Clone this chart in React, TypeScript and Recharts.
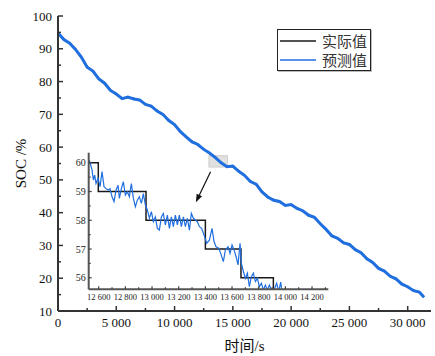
import React from 'react';
import { LineChart, Line, XAxis, YAxis, Legend, ReferenceArea, ReferenceLine } from 'recharts';

// ---------- data ----------
const mainTime = [
  0, 500, 1000, 1500, 2000, 2500, 3000, 3500, 4000, 4500, 5000, 5500, 6000, 6500, 7000, 7500,
  8000, 8500, 9000, 9500, 10000, 10500, 11000, 11500, 12000, 12500, 13000, 13500, 14000, 14500,
  15000, 15500, 16000, 16500, 17000, 17500, 18000, 18500, 19000, 19500, 20000, 20500, 21000,
  21500, 22000, 22500, 23000, 23500, 24000, 24500, 25000, 25500, 26000, 26500, 27000, 27500,
  28000, 28500, 29000, 29500, 30000, 30500, 31000, 31400,
];
const actualSOC = [
  94.5, 93.0, 91.6, 90.0, 87.3, 84.6, 83.0, 81.0, 79.3, 77.5, 76.0, 75.0, 75.1, 74.9, 74.2, 73.2,
  72.3, 71.2, 69.8, 68.3, 66.7, 64.9, 62.9, 61.8, 60.6, 59.5, 58.0, 57.0, 55.0, 54.2,
  54.0, 52.8, 51.2, 49.7, 48.5, 46.5, 44.6, 44.0, 43.2, 42.4, 42.3, 41.5, 40.4,
  39.4, 38.4, 36.8, 34.7, 33.1, 32.0, 31.0, 30.1, 28.9, 27.6, 26.1, 24.6, 23.2,
  22.0, 20.8, 19.6, 18.4, 17.2, 16.4, 15.6, 14.3,
];
const predictedSOC = [
  94.8, 92.8, 91.7, 89.8, 87.5, 84.4, 83.2, 80.8, 79.5, 77.3, 76.2, 74.8, 75.3, 74.7, 74.4, 73.0,
  72.5, 71.0, 70.0, 68.1, 66.9, 64.7, 63.1, 61.6, 60.8, 59.3, 58.2, 56.8, 55.2, 54.0,
  54.2, 52.6, 51.4, 49.5, 48.7, 46.3, 44.8, 43.8, 43.4, 42.2, 42.5, 41.3, 40.6,
  39.2, 38.6, 36.6, 34.9, 32.9, 32.2, 30.8, 30.3, 28.7, 27.8, 25.9, 24.8, 23.0,
  22.2, 20.6, 19.8, 18.2, 17.4, 16.2, 15.8, 14.2,
];

const insetPredTime = [
  12530, 12550, 12560, 12570, 12580, 12595, 12610, 12625, 12640, 12655, 12670, 12685, 12700,
  12715, 12730, 12745, 12755, 12770, 12785, 12800, 12815, 12830, 12845, 12860, 12875, 12890,
  12905, 12920, 12935, 12950, 12965, 12980, 12995, 13010, 13025, 13040, 13055, 13070, 13085,
  13100, 13115, 13130, 13145, 13160, 13175, 13190, 13205, 13220, 13235, 13250, 13265, 13280,
  13295, 13310, 13325, 13340, 13355, 13372, 13390, 13410, 13430, 13450, 13465, 13480, 13500,
  13515, 13535, 13550, 13570, 13585, 13600, 13615, 13630, 13645, 13660, 13670, 13685, 13700,
  13715, 13730, 13745, 13760, 13775, 13790, 13805, 13820, 13835, 13850, 13865, 13880, 13895,
  13915, 13935, 13950, 13965, 13980, 14010,
];
const insetPredSOC = [
  60.09, 59.75, 59.4, 59.57, 59.28, 59.46, 59.17, 59.69, 59.17, 59.1, 59.05, 59.1, 58.82,
  58.65, 59.05, 59.22, 58.76, 59.1, 59.34, 58.88, 58.99, 58.82, 59.28, 58.76, 58.47, 58.7,
  58.82, 58.59, 58.93, 58.53, 58.36, 58.07, 58.3, 57.95, 58.12, 57.72, 57.66, 58.12, 58.24,
  57.84, 58.18, 57.72, 58.12, 57.78, 58.18, 57.84, 58.18, 57.78, 58.12, 57.78, 58.07, 57.66,
  58.24, 58.07, 58.01, 57.95, 57.78, 57.72, 57.49, 57.2, 57.31, 57.72, 57.26, 57.08, 57.03,
  56.85, 56.56, 56.97, 57.08, 56.85, 57.14, 56.97, 56.74, 56.45, 57.2, 56.5, 56.22, 55.98,
  56.16, 55.69, 56.04, 56.16, 55.87, 55.98, 55.69, 55.81, 55.58, 55.75, 55.58, 55.75, 55.58,
  55.58, 55.81, 55.52, 55.85, 55.3, 55.2,
];
const insetActualTime = [12525, 12597, 12955, 13400, 13667, 13910, 14322];
const insetActualSOC = [60, 59, 58, 57, 56, 55, 55];

const mainXTicks = [0, 2500, 5000, 7500, 10000, 12500, 15000, 17500, 20000, 22500, 25000, 27500, 30000];
const mainYTicks = [10, 15, 20, 25, 30, 35, 40, 45, 50, 55, 60, 65, 70, 75, 80, 85, 90, 95, 100];
const insetXTicks = [12600, 12700, 12800, 12900, 13000, 13100, 13200, 13300, 13400, 13500, 13600, 13700, 13800, 13900, 14000, 14100, 14200, 14300];
const insetYTicks = [56, 56.5, 57, 57.5, 58, 58.5, 59, 59.5, 60];

const seriesNames = ['实际值', '预测值'];
const xTitle = '时间/s';
const yTitle = 'SOC /%';

const zoomBoxT = [12943, 14545];
const zoomBoxV = [53.9, 57.4];
const arrowT = [13090, 11830];
const arrowV = [52.5, 43.2];

// ---------- tables ----------
const mainRows = mainTime.map((t, i) => ({ t, actual: actualSOC[i], pred: predictedSOC[i] }));
const insetPredRows = insetPredTime.map((t, i) => ({ t, v: insetPredSOC[i] }));
const insetActualRows = insetActualTime.map((t, i) => ({ t, v: insetActualSOC[i] }));

// ---------- styles ----------
const SERIF = '"Liberation Serif", "Times New Roman", serif';
const CJK = '"Noto Sans CJK SC", "Noto Sans", sans-serif';
const BLUE = '#1f6fe0';
const BLACK = '#1a1a1a';
const AXIS = '#333';

const fmt = (v: number) => String(v).replace(/\B(?=(\d{3})+(?!\d))/g, ' ');

const MainXTick = (p: any) => {
  const { x, y, payload } = p;
  const v = payload.value;
  const major = v % 5000 === 0;
  const ay = y - 5;
  return (
    <g>
      <line x1={x} x2={x} y1={ay} y2={ay - (major ? 5 : 3)} stroke={AXIS} strokeWidth={1.5} />
      {major && (
        <text x={x} y={y} dy="0.85em" textAnchor="middle" fontSize={13} fontFamily={SERIF} fill="#111">
          {fmt(v)}
        </text>
      )}
    </g>
  );
};

const MainYTick = (p: any) => {
  const { x, y, payload } = p;
  const v = payload.value;
  const major = v % 10 === 0;
  const ax = x + 6;
  return (
    <g>
      <line x1={ax} x2={ax + (major ? 5 : 3)} y1={y} y2={y} stroke={AXIS} strokeWidth={1.5} />
      {major && (
        <text x={x} y={y} dy="0.35em" textAnchor="end" fontSize={13} fontFamily={SERIF} fill="#111">
          {v}
        </text>
      )}
    </g>
  );
};

const InsetXTick = (p: any) => {
  const { x, y, payload } = p;
  const v = payload.value;
  const major = v % 200 === 0;
  const ay = y - 3;
  return (
    <g>
      <line x1={x} x2={x} y1={ay} y2={ay - (major ? 3 : 2)} stroke="#444" strokeWidth={1.2} />
      {major && (
        <text x={x} y={y} dy="0.95em" textAnchor="middle" fontSize={8.5} fontFamily={SERIF} fill="#222">
          {fmt(v)}
        </text>
      )}
    </g>
  );
};

const InsetYTick = (p: any) => {
  const { x, y, payload } = p;
  const v = payload.value;
  const major = Number.isInteger(v);
  const ax = x + 3;
  return (
    <g>
      <line x1={ax} x2={ax + (major ? 3 : 2)} y1={y} y2={y} stroke="#444" strokeWidth={1.2} />
      {major && (
        <text x={x} y={y} dy="0.35em" textAnchor="end" fontSize={10} fontFamily={SERIF} fill="#222">
          {v}
        </text>
      )}
    </g>
  );
};

const XTitle = (p: any) => {
  const vb = p.viewBox || {};
  const cx = vb.x + vb.width / 2;
  return (
    <text x={cx} y={vb.y + 40} textAnchor="middle" fontSize={15} fill="#111">
      <tspan fontFamily={CJK}>{xTitle.slice(0, 2)}</tspan>
      <tspan fontFamily={SERIF}>{xTitle.slice(2)}</tspan>
    </text>
  );
};

const YTitle = (p: any) => {
  const vb = p.viewBox || {};
  const cx = vb.x + 13;
  const cy = vb.y + vb.height / 2;
  return (
    <text
      x={cx}
      y={cy}
      transform={`rotate(-90 ${cx} ${cy})`}
      textAnchor="middle"
      dominantBaseline="central"
      fontSize={15}
      fontFamily={SERIF}
      fill="#111"
    >
      {yTitle}
    </text>
  );
};

const ArrowShape = (p: any) => {
  const { x1, y1, x2, y2 } = p;
  if ([x1, y1, x2, y2].some((n) => typeof n !== 'number' || isNaN(n))) return <g />;
  const ang = Math.atan2(y2 - y1, x2 - x1);
  const L = 8;
  const W = 3;
  const bx = x2 - L * Math.cos(ang);
  const by = y2 - L * Math.sin(ang);
  const pts = [
    [x2, y2],
    [bx + W * Math.sin(ang), by - W * Math.cos(ang)],
    [bx - W * Math.sin(ang), by + W * Math.cos(ang)],
  ]
    .map((q) => q.join(','))
    .join(' ');
  return (
    <g>
      <line x1={x1} y1={y1} x2={bx} y2={by} stroke="#111" strokeWidth={1.2} />
      <polygon points={pts} fill="#111" />
    </g>
  );
};

const LegendBox = (props: any) => {
  const items = props.payload || [];
  return (
    <div
      style={{
        border: '1px solid #222',
        background: '#fff',
        padding: '1px 3px 1px 2px',
        boxShadow: '1px 1px 0 #bbb',
        display: 'inline-block',
      }}
    >
      {items.map((it: any, i: number) => (
        <div key={i} style={{ display: 'flex', alignItems: 'center', height: 19 }}>
          <svg width={36} height={4} style={{ display: 'block' }}>
            <line x1={0} y1={2} x2={36} y2={2} stroke={it.color} strokeWidth={1.5} />
          </svg>
          <span
            style={{
              marginLeft: 6,
              fontSize: 15,
              fontFamily: CJK,
              color: '#333',
              lineHeight: '19px',
              whiteSpace: 'nowrap',
            }}
          >
            {it.value}
          </span>
        </div>
      ))}
    </div>
  );
};

export default function App() {
  return (
    <div style={{ position: 'absolute', left: 0, top: 0, width: 435, height: 356, background: '#fff' }}>
      <LineChart width={435} height={356} data={mainRows} margin={{ top: 16, right: 4, bottom: 15, left: 8 }}>
        <XAxis
          dataKey="t"
          type="number"
          domain={[0, 32000]}
          ticks={mainXTicks}
          interval={0}
          tickSize={0}
          tickMargin={5}
          tickLine={false}
          tick={<MainXTick />}
          axisLine={{ stroke: AXIS, strokeWidth: 2 }}
          height={30}
          label={<XTitle />}
        />
        <YAxis
          type="number"
          domain={[10, 100]}
          ticks={mainYTicks}
          interval={0}
          tickSize={0}
          tickMargin={6}
          tickLine={false}
          tick={<MainYTick />}
          axisLine={{ stroke: AXIS, strokeWidth: 2 }}
          width={50}
          label={<YTitle />}
        />
        <Line
          dataKey="actual"
          name={seriesNames[0]}
          stroke={BLACK}
          strokeWidth={1.5}
          dot={false}
          isAnimationActive={false}
        />
        <Line
          dataKey="pred"
          name={seriesNames[1]}
          stroke={BLUE}
          strokeWidth={3}
          dot={false}
          isAnimationActive={false}
        />
        <ReferenceArea
          x1={zoomBoxT[0]}
          x2={zoomBoxT[1]}
          y1={zoomBoxV[0]}
          y2={zoomBoxV[1]}
          fill="#d6d6d6"
          fillOpacity={0.75}
          stroke="#c8c8c8"
          strokeWidth={0.8}
        />
        <ReferenceLine
          segment={[
            { x: arrowT[0], y: arrowV[0] },
            { x: arrowT[1], y: arrowV[1] },
          ]}
          shape={ArrowShape}
        />
        <Legend
          layout="vertical"
          align="center"
          verticalAlign="middle"
          content={<LegendBox />}
          wrapperStyle={{ left: 277, top: 29, width: 'auto', height: 'auto' }}
        />
      </LineChart>
      <div style={{ position: 'absolute', left: 50, top: 145 }}>
        <LineChart width={290} height={170} margin={{ top: 7.7, right: 11.7, bottom: 5.7, left: 10.7 }}>
          <XAxis
            dataKey="t"
            type="number"
            domain={[12525, 14322]}
            allowDataOverflow
            ticks={insetXTicks}
            interval={0}
            tickSize={0}
            tickMargin={3}
            tickLine={false}
            tick={<InsetXTick />}
            axisLine={{ stroke: '#555', strokeWidth: 2 }}
            height={20}
          />
          <YAxis
            type="number"
            domain={[55.6, 60.35]}
            allowDataOverflow
            ticks={insetYTicks}
            interval={0}
            tickSize={0}
            tickMargin={3}
            tickLine={false}
            tick={<InsetYTick />}
            axisLine={{ stroke: '#555', strokeWidth: 2 }}
            width={28}
          />
          <Line
            data={insetActualRows}
            dataKey="v"
            type="stepAfter"
            stroke={BLACK}
            strokeWidth={1.5}
            dot={false}
            isAnimationActive={false}
          />
          <Line
            data={insetPredRows}
            dataKey="v"
            type="linear"
            stroke={BLUE}
            strokeWidth={1.2}
            dot={false}
            isAnimationActive={false}
          />
        </LineChart>
      </div>
    </div>
  );
}
